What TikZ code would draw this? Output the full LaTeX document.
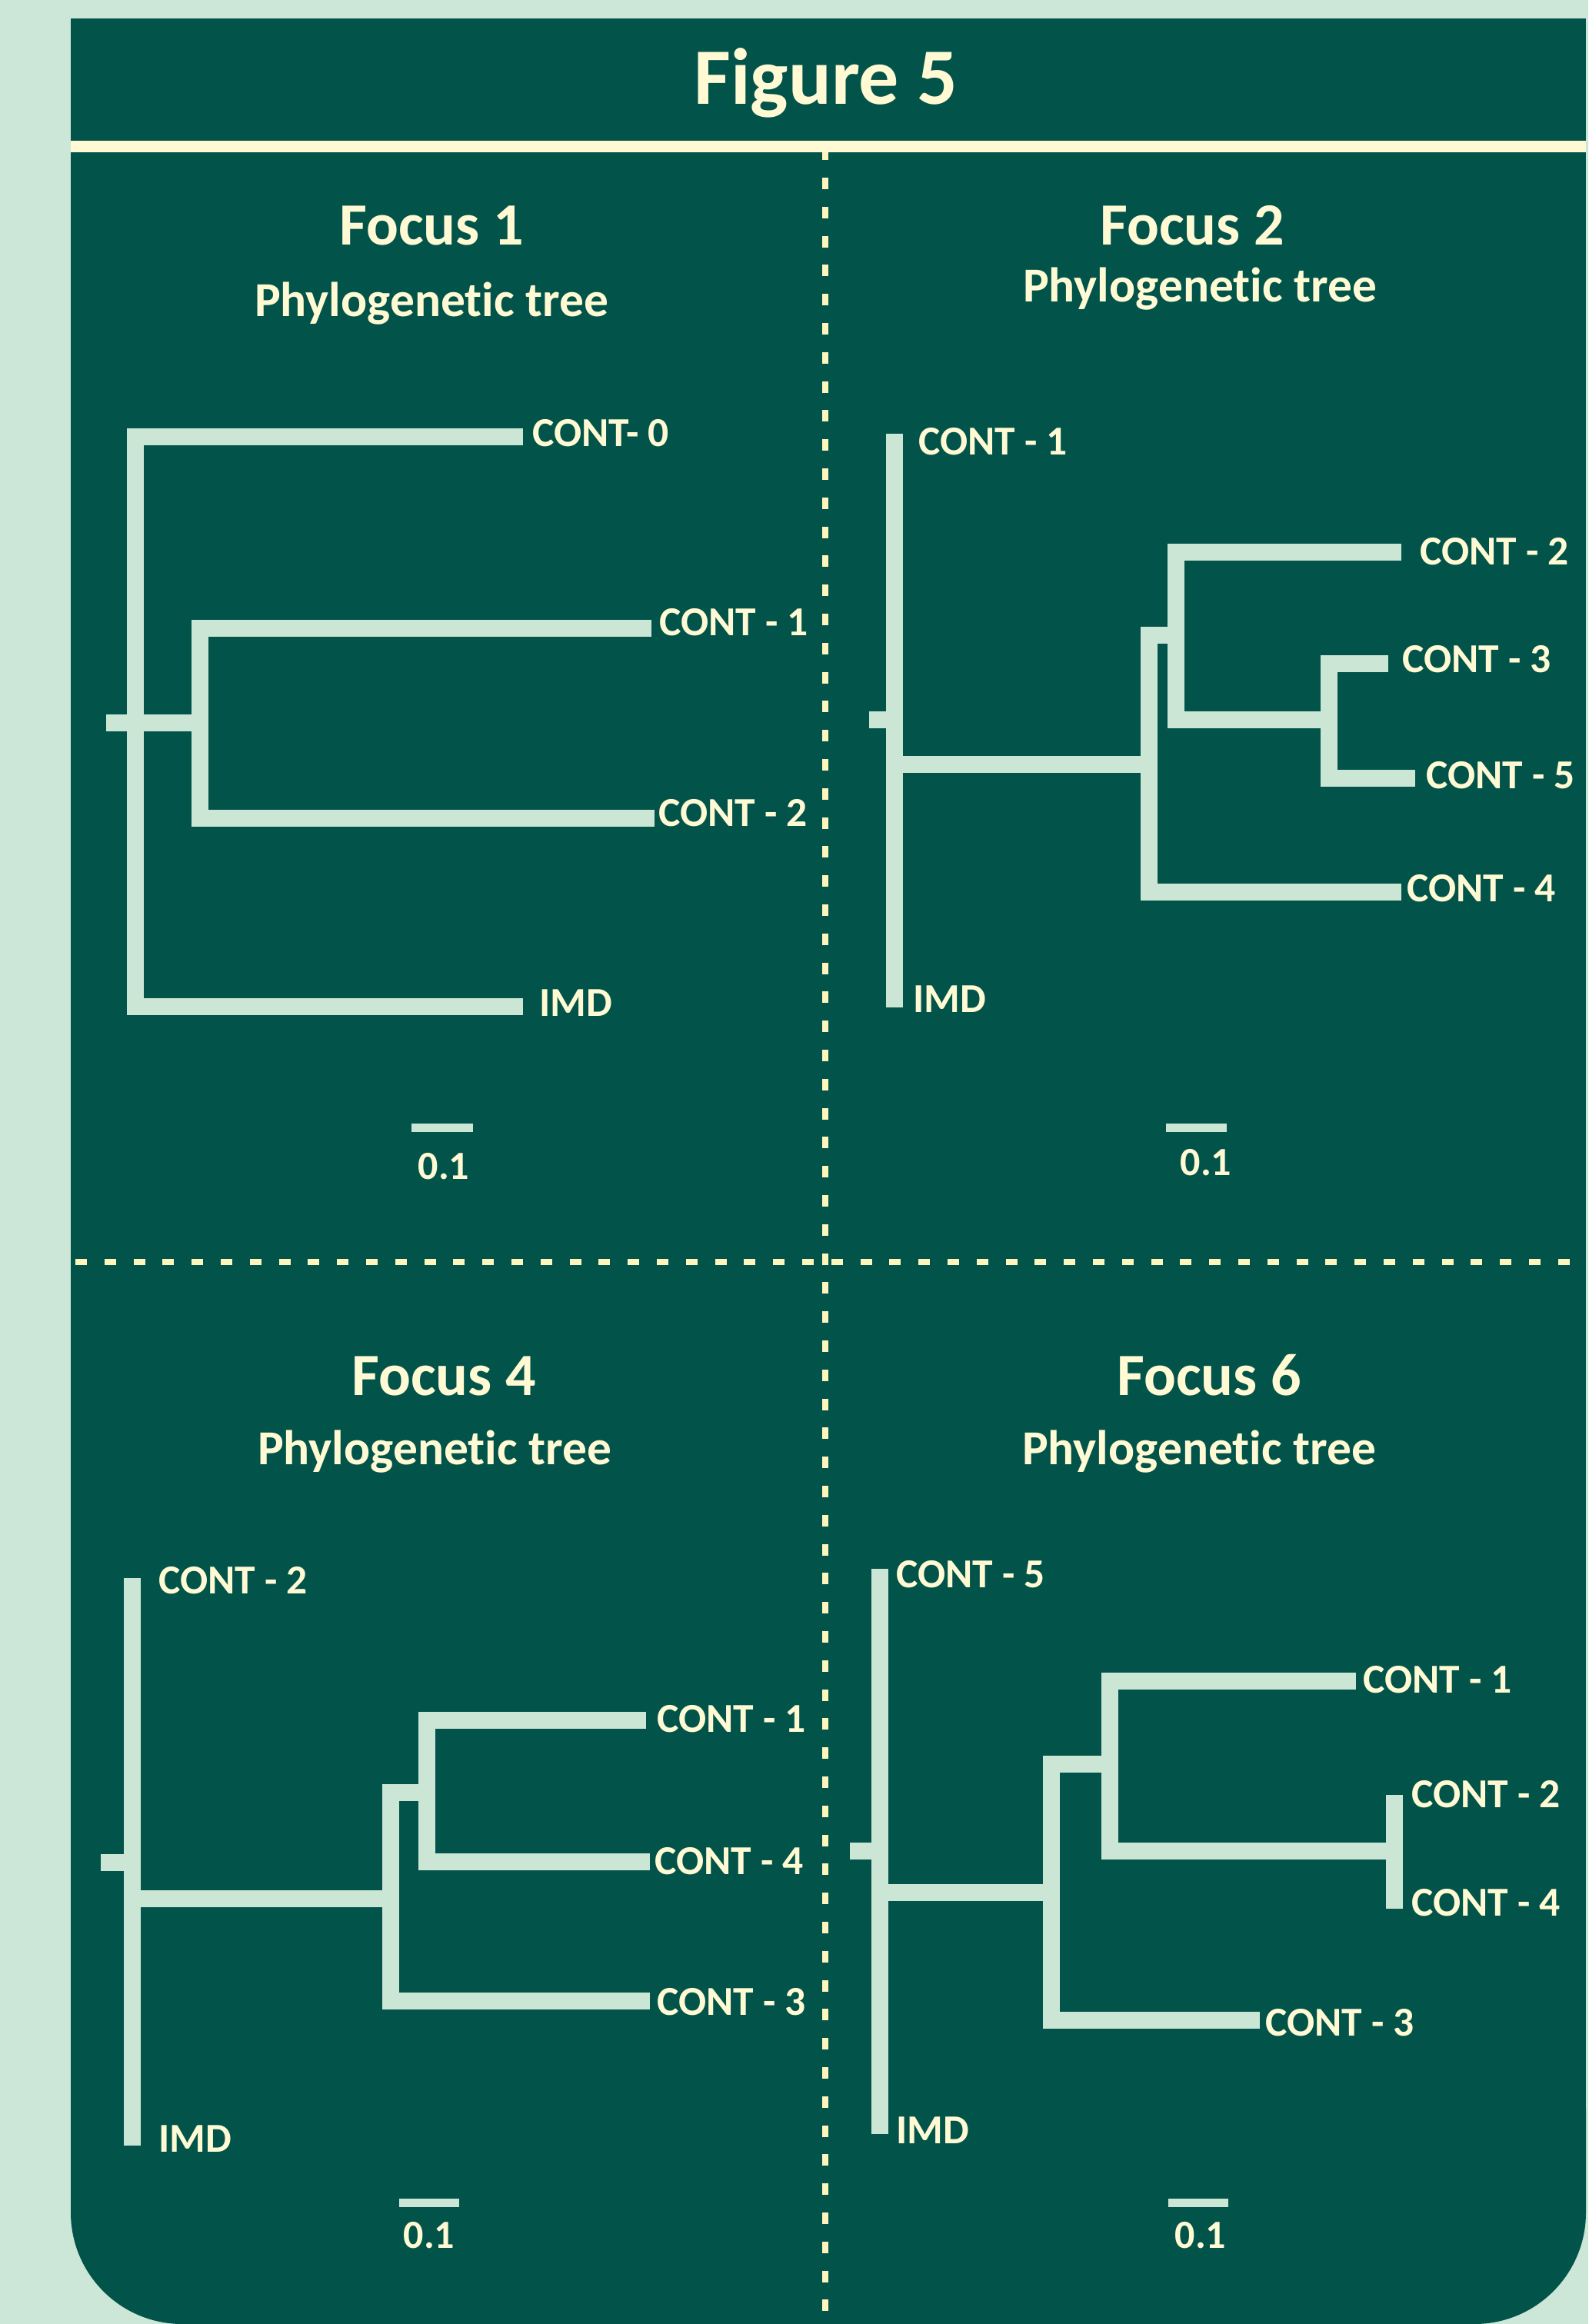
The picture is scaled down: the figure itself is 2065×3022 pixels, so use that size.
\documentclass[tikz,border=0pt]{standalone}
\usepackage{fontspec}
\setmainfont{Carlito}[Ligatures=NoCommon]
\definecolor{bgcol}{RGB}{204,230,215}
\definecolor{panelcol}{RGB}{2,84,74}
\definecolor{creamcol}{RGB}{255,249,212}
\definecolor{dashcol}{RGB}{255,246,190}
\definecolor{branchcol}{RGB}{204,230,214}
\tikzset{
  branch/.style={draw=branchcol, line width=22pt, line join=miter, line cap=butt},
  scalebar/.style={draw=branchcol, line width=11pt, line cap=butt},
  leaf/.style={anchor=west, inner sep=0pt, text=creamcol, font=\fontsize{53.5}{53.5}\selectfont\bfseries},
  sbl/.style={anchor=center, inner sep=0pt, text=creamcol, font=\fontsize{52}{52}\selectfont\bfseries},
  ftitle/.style={anchor=base, inner sep=0pt, text=creamcol, font=\fontsize{78}{78}\selectfont\bfseries},
  fsub/.style={anchor=base, inner sep=0pt, text=creamcol, font=\fontsize{63.5}{63.5}\selectfont\bfseries},
  sepline/.style={draw=dashcol, line width=7.5pt, dash pattern=on 15pt off 22.8pt},
}
\begin{document}
\begin{tikzpicture}[x=1pt,y=-1pt]
\useasboundingbox (0,0) rectangle (2065,3022);
\fill[bgcol] (0,0) rectangle (2065,3022);
% panel
\fill[panelcol] (92,24) rectangle (2062,2800);
\fill[panelcol, rounded corners=145pt] (92,2600) rectangle (2062,3022);
% separators
\draw[sepline] (1073,193.2) -- (1073,3030);
\draw[sepline] (98,1641) -- (2062,1641);
\fill[creamcol] (92,183) rectangle (2062,198);
% title
\node[anchor=base, inner sep=0pt, text=creamcol, font=\fontsize{104}{104}\selectfont\bfseries] (title) at (1074,135) {Figure 5};

% ---------- Focus 1 ----------
\node[ftitle] (f1t) at (561,318) {Focus 1};
\node[fsub] (f1s) at (561,411) {Phylogenetic tree};
\draw[branch] (680,568) -- (176,568) -- (176,1309) -- (680,1309);
\draw[branch] (138,940) -- (260,940);
\draw[branch] (847,816.5) -- (260,816.5) -- (260,1064) -- (851,1064);
\node[leaf] (f1a) at (692,563) {CONT- 0};
\node[leaf] (f1b) at (857,809) {CONT - 1};
\node[leaf] (f1c) at (856,1057) {CONT - 2};
\node[leaf] (f1d) at (701,1304) {IMD};
\draw[scalebar] (535,1466) -- (615,1466);
\node[sbl] (f1sc) at (577,1517) {0.1};

% ---------- Focus 2 ----------
\node[ftitle] (f2t) at (1550,318) {Focus 2};
\node[fsub] (f2s) at (1560,392) {Phylogenetic tree};
\draw[branch] (1163,564) -- (1163,1310);
\draw[branch] (1130,936) -- (1163,936);
\draw[branch] (1163,994) -- (1494,994);
\draw[branch] (1529,826) -- (1494,826) -- (1494,1160) -- (1822,1160);
\draw[branch] (1822,718) -- (1529,718) -- (1529,936) -- (1728,936);
\draw[branch] (1805,863) -- (1728,863) -- (1728,1012) -- (1840,1012);
\node[leaf] (f2a) at (1194,574) {CONT - 1};
\node[leaf] (f2b) at (1846,717) {CONT - 2};
\node[leaf] (f2c) at (1823,857) {CONT - 3};
\node[leaf] (f2d) at (1854,1008) {CONT - 5};
\node[leaf] (f2e) at (1829,1155) {CONT - 4};
\node[leaf] (f2f) at (1187,1299) {IMD};
\draw[scalebar] (1516,1466) -- (1595,1466);
\node[sbl] (f2sc) at (1568,1512) {0.1};

% ---------- Focus 4 ----------
\node[ftitle] (f4t) at (577,1814) {Focus 4};
\node[fsub] (f4s) at (565,1904) {Phylogenetic tree};
\draw[branch] (172,2052) -- (172,2790);
\draw[branch] (131,2422) -- (172,2422);
\draw[branch] (172,2469) -- (508,2469);
\draw[branch] (555,2331) -- (508,2331) -- (508,2602) -- (845,2602);
\draw[branch] (840,2237) -- (555,2237) -- (555,2421) -- (845,2421);
\node[leaf] (f4a) at (206,2055) {CONT - 2};
\node[leaf] (f4b) at (854,2235) {CONT - 1};
\node[leaf] (f4c) at (851,2420) {CONT - 4};
\node[leaf] (f4d) at (854,2603) {CONT - 3};
\node[leaf] (f4e) at (206,2781) {IMD};
\draw[scalebar] (519,2864) -- (597,2864);
\node[sbl] (f4sc) at (558,2907) {0.1};

% ---------- Focus 6 ----------
\node[ftitle] (f6t) at (1572,1814) {Focus 6};
\node[fsub] (f6s) at (1559,1904) {Phylogenetic tree};
\draw[branch] (1144,2040) -- (1144,2775);
\draw[branch] (1105,2407) -- (1144,2407);
\draw[branch] (1144,2461) -- (1367,2461);
\draw[branch] (1443,2294) -- (1367,2294) -- (1367,2627) -- (1638,2627);
\draw[branch] (1763,2186) -- (1443,2186) -- (1443,2407) -- (1813,2407);
\draw[branch] (1813,2334) -- (1813,2482);
\node[leaf] (f6a) at (1165,2047) {CONT - 5};
\node[leaf] (f6b) at (1772,2184) {CONT - 1};
\node[leaf] (f6c) at (1835,2333) {CONT - 2};
\node[leaf] (f6d) at (1835,2474) {CONT - 4};
\node[leaf] (f6e) at (1645,2630) {CONT - 3};
\node[leaf] (f6f) at (1165,2770) {IMD};
\draw[scalebar] (1519,2864) -- (1597,2864);
\node[sbl] (f6sc) at (1561,2907) {0.1};
\end{tikzpicture}
\end{document}
